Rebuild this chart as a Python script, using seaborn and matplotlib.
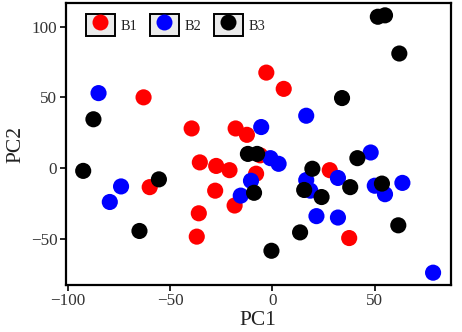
import matplotlib
matplotlib.use("Agg")
import matplotlib.pyplot as plt
import seaborn as sns
import pandas as pd
from matplotlib.patches import Rectangle
from matplotlib.lines import Line2D
from matplotlib.legend_handler import HandlerTuple

# ---- data ----
b1_pc1 = [-63, -39.5, -35.5, -27.5, -21, -18, -12.5, -3, 5.5, -6, -8, -28, -36, -37, -18.5, -60, 28, 37.5]
b1_pc2 = [50, 28, 4, 1.5, -1.5, 28, 23.5, 67.5, 56, 9, -4, -16, -32, -48.5, -26.5, -13.5, -1.5, -49.5]

b2_pc1 = [-85, -74, -79.5, -5.5, 16.5, 48, -1, 3, -10.5, -15.5, 16.5, 18.5, 21.5, 32, 32, 50, 55, 63.5, 78.5]
b2_pc2 = [53, -13, -24, 29, 37, 11, 7, 3, -9, -19.5, -8.5, -16, -34, -35, -7, -12.5, -18.5, -10.5, -74]

b3_pc1 = [-87.5, -92.5, -55.5, -65, 51.5, 55, 62, 34, -12, -7.5, 41.5, 19.5, -9, 15.5, 24, 38, 53.5, 61.5, 13.5, -0.5]
b3_pc2 = [34.5, -2, -8, -44.5, 107, 108, 81, 49.5, 10, 10, 7, -0.5, -17.5, -15.5, -20.5, -13.5, -11, -40.5, -45.5, -58.5]

batches = ["B1", "B2", "B3"]
colors = {"B1": "#ff0000", "B2": "#0000ff", "B3": "#000000"}
x_ticks = [-100, -50, 0, 50]
y_ticks = [-50, 0, 50, 100]

df = pd.concat([
    pd.DataFrame({"PC1": b1_pc1, "PC2": b1_pc2, "batch": "B1"}),
    pd.DataFrame({"PC1": b2_pc1, "PC2": b2_pc2, "batch": "B2"}),
    pd.DataFrame({"PC1": b3_pc1, "PC2": b3_pc2, "batch": "B3"}),
], ignore_index=True)

sns.set_theme(style="ticks")
plt.rcParams["font.family"] = ["Liberation Serif", "DejaVu Serif"]
plt.rcParams["axes.unicode_minus"] = True

fig = plt.figure(figsize=(4.62, 3.32), dpi=100)
ax = fig.add_axes([0.142, 0.1416, 0.8335, 0.8484])

sns.scatterplot(data=df, x="PC1", y="PC2", hue="batch", palette=colors,
                s=135, linewidth=0, alpha=1, legend=False, ax=ax, zorder=3)

ax.set_xlim(-101.1, 87.1)
ax.set_ylim(-82.7, 116.5)
ax.set_xticks(x_ticks)
ax.set_yticks(y_ticks)
ax.tick_params(axis="both", direction="out", length=4, width=1.2, colors="black",
               labelsize=12.3, pad=2.0)
for lab in ax.get_xticklabels() + ax.get_yticklabels():
    lab.set_color("#333333")
for sp in ax.spines.values():
    sp.set_visible(True)
    sp.set_linewidth(1.6)
    sp.set_color("black")
ax.set_xlabel("PC1", fontsize=15.5, labelpad=1.0, color="#222222")
ax.set_ylabel("PC2", fontsize=15.5, labelpad=4, color="#222222")
ax.set_facecolor("white")

# legend with boxed keys
handles = []
for b in batches:
    rect = Rectangle((0, 0), 1, 1, facecolor="#ebebeb", edgecolor="black", linewidth=1.4)
    dot = Line2D([], [], linestyle="none", marker="o", markersize=11.5,
                 markerfacecolor=colors[b], markeredgewidth=0)
    handles.append((rect, dot))
leg = ax.legend(handles, batches, handler_map={tuple: HandlerTuple(ndivide=1, pad=0)},
                loc="upper left", bbox_to_anchor=(0.053, 0.962), ncol=3, frameon=False,
                fontsize=10.3, handlelength=2.0, handleheight=2.0, handletextpad=0.45,
                columnspacing=0.85, borderpad=0, borderaxespad=0)
for t in leg.get_texts():
    t.set_color("#222222")

fig.savefig("out.png", dpi=100)
